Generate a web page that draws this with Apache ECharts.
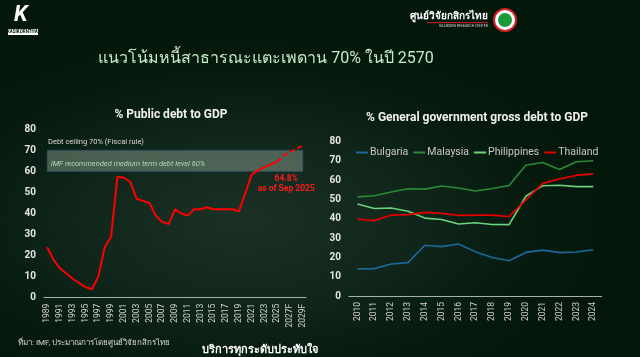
<!DOCTYPE html>
<html><head><meta charset="utf-8">
<script src="https://cdn.jsdelivr.net/npm/echarts@6/dist/echarts.min.js"></script>
<style>
html,body{margin:0;padding:0;}
#c{width:640px;height:357px;background:radial-gradient(ellipse 60% 55% at 38% 62%, #1c3126 0%, #10261a 45%, #05190d 80%, #03170b 100%);}
</style></head>
<body><div id="c"></div>
<script>
// Left chart: % Public debt to GDP (Thailand)
const pdYears = ['1989','1990','1991','1992','1993','1994','1995','1996','1997','1998','1999','2000','2001','2002','2003','2004','2005','2006','2007','2008','2009','2010','2011','2012','2013','2014','2015','2016','2017','2018','2019','2020','2021','2022','2023','2024','2025','2026F','2027F','2028F','2029F'];
const pdActual = [24,18,14,11.5,9,7,5,4,10,24,29,57.5,57,55,47,46,45,39,36,35,42,40,39,42,42,43,42,42,42,42,41,49.6,58.5,60.5,62,63.3,64.8,null,null,null,null];
const pdForecast = [null,null,null,null,null,null,null,null,null,null,null,null,null,null,null,null,null,null,null,null,null,null,null,null,null,null,null,null,null,null,null,null,null,null,null,null,64.8,67.5,69.2,70.8,72.2];
const leftTicks = [0,10,20,30,40,50,60,70,80];

// Right chart: % General government gross debt to GDP
const ggYears = ['2010','2011','2012','2013','2014','2015','2016','2017','2018','2019','2020','2021','2022','2023','2024'];
const bulgaria    = [14,14.2,16.6,17.3,26.3,25.6,27,23,20,18.3,22.6,23.8,22.5,22.8,24];
const malaysia    = [51.4,52,53.9,55.6,55.4,57,56,54.4,55.7,57.3,67.8,69.2,65.6,69.6,70.1];
const philippines = [47.7,45.4,45.6,43.9,40.4,39.7,37.3,38,37.1,37,51.7,57.2,57.4,56.7,56.7];
const thailand    = [39.9,39.1,41.9,42.2,43.4,42.8,41.8,41.9,41.9,41.1,49.8,58.4,60.7,62.6,63.3];
const seriesNames = ['Bulgaria','Malaysia','Philippines','Thailand'];

const chart = echarts.init(document.getElementById('c'), null, {renderer:'canvas'});
const FONT = 'Roboto, "Noto Sans", sans-serif';
const axisLabelY = {color:'#e6e6e6', fontSize:10, fontWeight:'bold', fontFamily:FONT, margin:8};
const axisLabelX = {color:'#d0d0d0', fontSize:8.5, fontFamily:FONT, rotate:90, margin:6};

chart.setOption({
  backgroundColor:'transparent',
  animation:false,
  title:[
    {text:'แนวโน้มหนี้สาธารณะแตะเพดาน 70% ในปี 2570', left:261, top:46, textAlign:'center',
     textStyle:{color:'#c4ecc8', fontSize:16, fontWeight:'normal', fontFamily:FONT}},
    {text:'% Public debt to GDP', left:166, top:104, textAlign:'center',
     textStyle:{color:'#f0f0f0', fontSize:12, fontWeight:'bold', fontFamily:FONT}},
    {text:'% General government gross debt to GDP', left:472, top:107, textAlign:'center',
     textStyle:{color:'#f0f0f0', fontSize:12, fontWeight:'bold', fontFamily:FONT}}
  ],
  legend:{
    data:seriesNames, left:351, top:142, icon:'rect', itemWidth:12, itemHeight:2, itemGap:5,
    textStyle:{color:'#c8c8c8', fontSize:10.5, fontFamily:FONT, padding:[0,0,0,-3]}
  },
  grid:[
    {left:44, top:129.3, width:262, height:168.4},
    {left:349, top:141.7, width:252.7, height:154.3}
  ],
  xAxis:[
    {type:'category', gridIndex:0, data:pdYears, boundaryGap:true,
     axisLine:{lineStyle:{color:'#a9b0a9', width:1.2}}, axisTick:{show:false},
     axisLabel:Object.assign({interval:1}, axisLabelX)},
    {type:'category', gridIndex:1, data:ggYears, boundaryGap:true,
     axisLine:{lineStyle:{color:'#a9b0a9', width:1.2}}, axisTick:{show:false},
     axisLabel:Object.assign({interval:0}, axisLabelX)}
  ],
  yAxis:[
    {type:'value', gridIndex:0, min:leftTicks[0], max:leftTicks[leftTicks.length-1], interval:10,
     splitLine:{show:false}, axisLine:{show:false}, axisTick:{show:false}, axisLabel:axisLabelY},
    {type:'value', gridIndex:1, min:0, max:80, interval:10,
     splitLine:{show:false}, axisLine:{show:false}, axisTick:{show:false}, axisLabel:axisLabelY}
  ],
  series:[
    {name:'Public debt', type:'line', xAxisIndex:0, yAxisIndex:0, data:pdActual, symbol:'none',
     lineStyle:{color:'#ff0000', width:2}, z:5,
     markArea:{silent:true,
       itemStyle:{color:'rgba(170,195,175,0.38)', borderColor:'#2a5066', borderWidth:1, borderType:'dashed'},
       label:{show:true, position:'insideBottomLeft', distance:4, color:'#b5d6b8', fontSize:7.5, fontStyle:'italic', fontFamily:FONT},
       data:[[{name:'IMF recommended medium term debt level 60%', xAxis:'1989', yAxis:60},{xAxis:'2029F', yAxis:70}]]},
     markLine:{silent:true, symbol:'none',
       lineStyle:{color:'rgba(0,0,0,0)', width:1},
       label:{show:true, position:'insideStartTop', distance:4, color:'#d8d8d8', fontSize:7.5, fontFamily:FONT, formatter:'Debt ceiling 70% (Fiscal rule)'},
       data:[{yAxis:70}]},
     markPoint:{silent:true, symbol:'circle', symbolSize:0,
       label:{show:true, offset:[9,23], color:'#ff1a1a', fontSize:8.5, fontWeight:'bold', fontFamily:FONT, lineHeight:10,
              formatter:'64.8%\nas of Sep 2025'},
       data:[{coord:['2025',64.8]}]}
    },
    {name:'Forecast', type:'line', xAxisIndex:0, yAxisIndex:0, data:pdForecast, symbol:'none',
     lineStyle:{color:'#ff0000', width:2, type:[5,3]}, z:5},
    {name:'Bulgaria', type:'line', xAxisIndex:1, yAxisIndex:1, data:bulgaria, symbol:'none', color:'#1c6a9a', lineStyle:{width:1.6}},
    {name:'Malaysia', type:'line', xAxisIndex:1, yAxisIndex:1, data:malaysia, symbol:'none', color:'#2a8a3a', lineStyle:{width:1.6}},
    {name:'Philippines', type:'line', xAxisIndex:1, yAxisIndex:1, data:philippines, symbol:'none', color:'#6cd27c', lineStyle:{width:1.6}},
    {name:'Thailand', type:'line', xAxisIndex:1, yAxisIndex:1, data:thailand, symbol:'none', color:'#e00000', lineStyle:{width:1.8}}
  ],
  graphic:[
    // left logo
    {type:'text', left:14, top:4, style:{text:'K', fill:'#ffffff', font:'bold italic 22px '+FONT}},
    {type:'rect', shape:{x:8, y:29, width:30, height:6}, style:{fill:'#ffffff'}},
    {type:'text', x:23, y:32, style:{text:'KASIKORNTHAI', fill:'#0a1a10', font:'bold 4.5px '+FONT, textAlign:'center', textVerticalAlign:'middle'}},
    // right logo
    {type:'text', x:488, y:16, style:{text:'ศูนย์วิจัยกสิกรไทย', fill:'#ffffff', font:'bold 10px '+FONT, textAlign:'right', textVerticalAlign:'middle'}},
    {type:'rect', shape:{x:427, y:22, width:61, height:1.2}, style:{fill:'#b01c1c'}},
    {type:'text', x:488, y:26.5, style:{text:'KASIKORN RESEARCH CENTER', fill:'#d0d0d0', font:'3.5px '+FONT, textAlign:'right', textVerticalAlign:'middle'}},
    {type:'circle', shape:{cx:505, cy:20, r:11}, style:{fill:'#ffffff', stroke:'#d42020', lineWidth:2}},
    {type:'circle', shape:{cx:505, cy:20, r:7}, style:{fill:'#1a9a3a'}},
    // footer
    {type:'text', x:18, y:343, style:{text:'ที่มา: IMF, ประมาณการโดยศูนย์วิจัยกสิกรไทย', fill:'#d8d8d8', font:'8px '+FONT, textVerticalAlign:'middle'}},
    {type:'text', x:260, y:350, style:{text:'บริการทุกระดับประทับใจ', fill:'#ffffff', font:'bold 11px '+FONT, textAlign:'center', textVerticalAlign:'middle'}}
  ]
});
</script></body></html>
